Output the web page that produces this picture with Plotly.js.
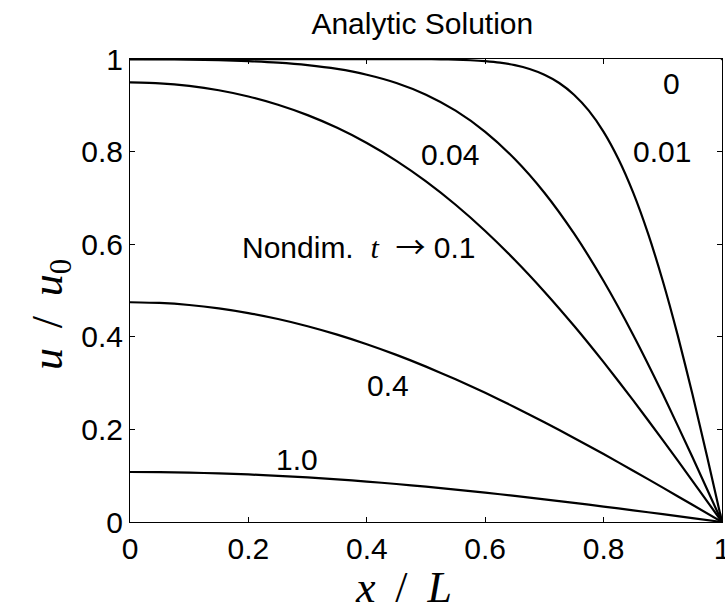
<!DOCTYPE html>
<html>
<head>
<meta charset="utf-8">
<script src="https://cdn.plot.ly/plotly-3.0.1.min.js"></script>
<style>html,body{margin:0;padding:0;background:#fff;}#plot{width:725px;height:613px;}</style>
</head>
<body>
<div id="plot"></div>
<script>
// x grids
const xGrid = [0,0.05,0.1,0.15,0.2,0.25,0.3,0.35,0.4,0.45,0.5,0.55,0.6,0.65,0.7,0.75,0.8,0.85,0.9,0.95,1];
const xFine = [0,0.5,0.525,0.55,0.575,0.6,0.625,0.65,0.675,0.7,0.725,0.75,0.775,0.8,0.825,0.85,0.875,0.9,0.925,0.95,0.975,1];
const xT0 = [0,1,1];

// u/u0 values
const uT0   = [1,1,0];
const uT001 = [1,0.9996,0.9992,0.9985,0.9973,0.9953,0.9920,0.9867,0.9785,0.9661,0.9482,0.9229,0.8884,0.8427,0.7840,0.7112,0.6232,0.5205,0.4041,0.2763,0.1403,0];
const uT004 = [0.9992,0.9992,0.9985,0.9973,0.9953,0.9920,0.9867,0.9785,0.9661,0.9482,0.9229,0.8884,0.8427,0.7840,0.7112,0.6232,0.5205,0.4041,0.2763,0.1403,0];
const uT01  = [0.9493,0.9475,0.9419,0.9325,0.9191,0.9013,0.8788,0.8514,0.8186,0.7801,0.7357,0.6852,0.6286,0.5659,0.4975,0.4238,0.3452,0.2627,0.1769,0.0890,0];
const uT04  = [0.4746,0.4731,0.4687,0.4614,0.4513,0.4384,0.4228,0.4046,0.3839,0.3609,0.3356,0.3082,0.2789,0.2480,0.2154,0.1816,0.1467,0.1108,0.0742,0.0372,0];
const uT1   = [0.1080,0.1076,0.1066,0.1050,0.1027,0.0998,0.0962,0.0921,0.0874,0.0821,0.0764,0.0701,0.0635,0.0564,0.0490,0.0413,0.0334,0.0252,0.0169,0.0085,0];

const tickVals = [0,0.2,0.4,0.6,0.8,1];
const tickText = ['0','0.2','0.4','0.6','0.8','1'];

const lineStyle = {color:'black', width:2.2};
const traces = [
  {x:xT0, y:uT0},
  {x:xFine, y:uT001},
  {x:xGrid, y:uT004},
  {x:xGrid, y:uT01},
  {x:xGrid, y:uT04},
  {x:xGrid, y:uT1}
].map(t => Object.assign(t, {type:'scatter', mode:'lines', line:Object.assign({shape:'spline', smoothing:0.6}, lineStyle), cliponaxis:false, hoverinfo:'skip', showlegend:false}));

const sans = 'Liberation Sans, Arial, sans-serif';
const serif = 'Liberation Serif, Times New Roman, serif';
const annFont = {family:sans, size:30, color:'black'};
const ann = (x, y, text) => ({x:x, y:y, xref:'x', yref:'y', text:text, showarrow:false, font:annFont, xanchor:'center', yanchor:'middle'});
const NB = '\u00a0';
const TS = '\u2009';

const axisCommon = {range:[0,1], tickvals:tickVals, ticktext:tickText, ticks:'inside', ticklen:5, tickwidth:1, tickcolor:'black',
    showline:true, linecolor:'black', linewidth:1, mirror:'ticks', showgrid:false, zeroline:false,
    ticklabeloverflow:'allow', tickfont:{family:sans, size:30, color:'black'}};

const layout = {
  width:725, height:613,
  margin:{l:130, r:3, t:59, b:91},
  paper_bgcolor:'white', plot_bgcolor:'white',
  title:{text:'Analytic Solution', font:{family:sans, size:30, color:'black'}, x:0.5825, xanchor:'center', xref:'container', y:0.962, yanchor:'middle', yref:'container'},
  xaxis:Object.assign({}, axisCommon),
  yaxis:Object.assign({}, axisCommon),
  annotations:[
    ann(0.9155, 0.948, '0'),
    ann(0.8986, 0.801, '0.01'),
    ann(0.5405, 0.793, '0.04'),
    ann(0.3868, 0.598, 'Nondim.' + NB + NB + '<i style="font-family:Liberation Serif">t</i>' + NB + NB + '<span style="font-family:Noto Sans CJK JP">\u2192</span>' + NB + '0.1'),
    ann(0.436, 0.294, '0.4'),
    ann(0.282, 0.136, '1.0'),
    // axis titles
    {x:0.4628, y:-0.1404, xref:'paper', yref:'paper', showarrow:false, xanchor:'center', yanchor:'middle',
     text:'<i>x</i>' + NB + TS + '/' + NB + TS + '<i>L</i>', font:{family:serif, size:44, color:'black'}},
    {x:-0.135, y:0.447, xref:'paper', yref:'paper', showarrow:false, xanchor:'center', yanchor:'middle', textangle:-90,
     text:'<i>u</i>' + NB + TS + '/' + NB + TS + '<i>u</i><sub>0</sub>', font:{family:serif, size:44, color:'black'}}
  ]
};

Plotly.newPlot('plot', traces, layout, {displayModeBar:false, staticPlot:true});
</script>
</body>
</html>
